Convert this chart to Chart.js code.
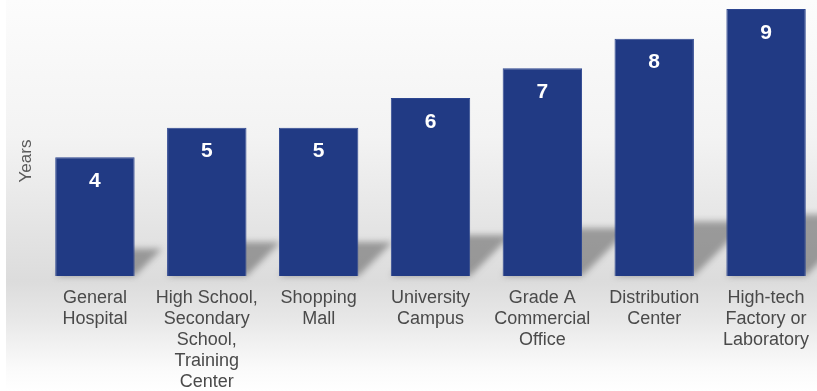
<!DOCTYPE html>
<html>
<head>
<meta charset="utf-8">
<script src="https://cdn.jsdelivr.net/npm/chart.js@4"></script>
<style>
  html, body { margin: 0; padding: 0; background: #fff; overflow: hidden; }
  #wrap { width: 822px; height: 391px; }
</style>
</head>
<body>
<div id="wrap"><canvas id="yearsChart" width="822" height="391"></canvas></div>
<script>
const categories = [
  ["General", "Hospital"],
  ["High School,", "Secondary", "School,", "Training", "Center"],
  ["Shopping", "Mall"],
  ["University", "Campus"],
  ["Grade A", "Commercial", "Office"],
  ["Distribution", "Center"],
  ["High-tech", "Factory or", "Laboratory"]
];
const years = [4, 5, 5, 6, 7, 8, 9];
const axisTitle = "Years";

const barColor = "#213a84";

// soft grey panel behind the chart
const panelBackground = {
  id: "panelBackground",
  beforeDraw(chart) {
    const ctx = chart.ctx;
    const g = ctx.createLinearGradient(0, 0, 0, chart.height);
    g.addColorStop(0, "#fcfcfc");
    g.addColorStop(0.35, "#f3f3f3");
    g.addColorStop(0.6, "#e3e3e3");
    g.addColorStop(0.72, "#dcdcdc");
    g.addColorStop(0.82, "#e8e8e8");
    g.addColorStop(0.94, "#fafafa");
    g.addColorStop(1, "#ffffff");
    ctx.save();
    ctx.fillStyle = "#ffffff";
    ctx.fillRect(0, 0, chart.width, chart.height);
    ctx.fillStyle = g;
    ctx.fillRect(6, 0, chart.width - 6, chart.height);
    ctx.restore();
  }
};

// floor shadows cast up and to the right of each bar
const barShadows = {
  id: "barShadows",
  beforeDatasetsDraw(chart) {
    const ctx = chart.ctx;
    const meta = chart.getDatasetMeta(0);
    ctx.save();
    ctx.filter = "blur(3px)";
    ctx.fillStyle = "rgba(80,80,80,0.5)";
    meta.data.forEach(bar => {
      const left = bar.x - bar.width / 2;
      const right = bar.x + bar.width / 2;
      const d = (bar.base - bar.y) * 0.23;
      ctx.beginPath();
      ctx.moveTo(left, bar.base);
      ctx.lineTo(right, bar.base);
      ctx.lineTo(right + d, bar.base - d);
      ctx.lineTo(left + d, bar.base - d);
      ctx.closePath();
      ctx.fill();
    });
    ctx.restore();
  }
};

// value inside each bar and the rotated axis title
const barText = {
  id: "barText",
  afterDatasetsDraw(chart) {
    const ctx = chart.ctx;
    const meta = chart.getDatasetMeta(0);
    ctx.save();
    ctx.fillStyle = "#ffffff";
    ctx.font = "bold 21px 'Liberation Sans', Arial, sans-serif";
    ctx.textAlign = "center";
    ctx.textBaseline = "middle";
    meta.data.forEach((bar, i) => {
      ctx.fillText(String(years[i]), bar.x, bar.y + 24);
    });
    ctx.translate(26, 161);
    ctx.rotate(-Math.PI / 2);
    ctx.fillStyle = "#5a5a5a";
    ctx.font = "17px 'Liberation Sans', Arial, sans-serif";
    ctx.fillText(axisTitle, 0, 0);
    ctx.restore();
  }
};

new Chart(document.getElementById("yearsChart"), {
  type: "bar",
  data: {
    labels: categories,
    datasets: [{
      label: axisTitle,
      data: years,
      backgroundColor: barColor,
      borderColor: "#2d4690",
      borderWidth: 1,
      categoryPercentage: 1,
      barPercentage: 0.71
    }]
  },
  options: {
    responsive: false,
    animation: false,
    events: [],
    layout: { padding: { left: 39, top: 9, right: 0, bottom: 0 } },
    plugins: {
      legend: { display: false },
      tooltip: { enabled: false }
    },
    scales: {
      y: { display: false, min: 0, max: 9 },
      x: {
        grid: { display: false, drawTicks: false },
        border: { display: false },
        ticks: {
          color: "#4a4a4a",
          padding: 12,
          maxRotation: 0,
          autoSkip: false,
          font: { family: "'Liberation Sans', Arial, sans-serif", size: 18, lineHeight: 1.16 }
        },
        afterFit(scale) { scale.height = 115; }
      }
    }
  },
  plugins: [panelBackground, barShadows, barText]
});
</script>
</body>
</html>
